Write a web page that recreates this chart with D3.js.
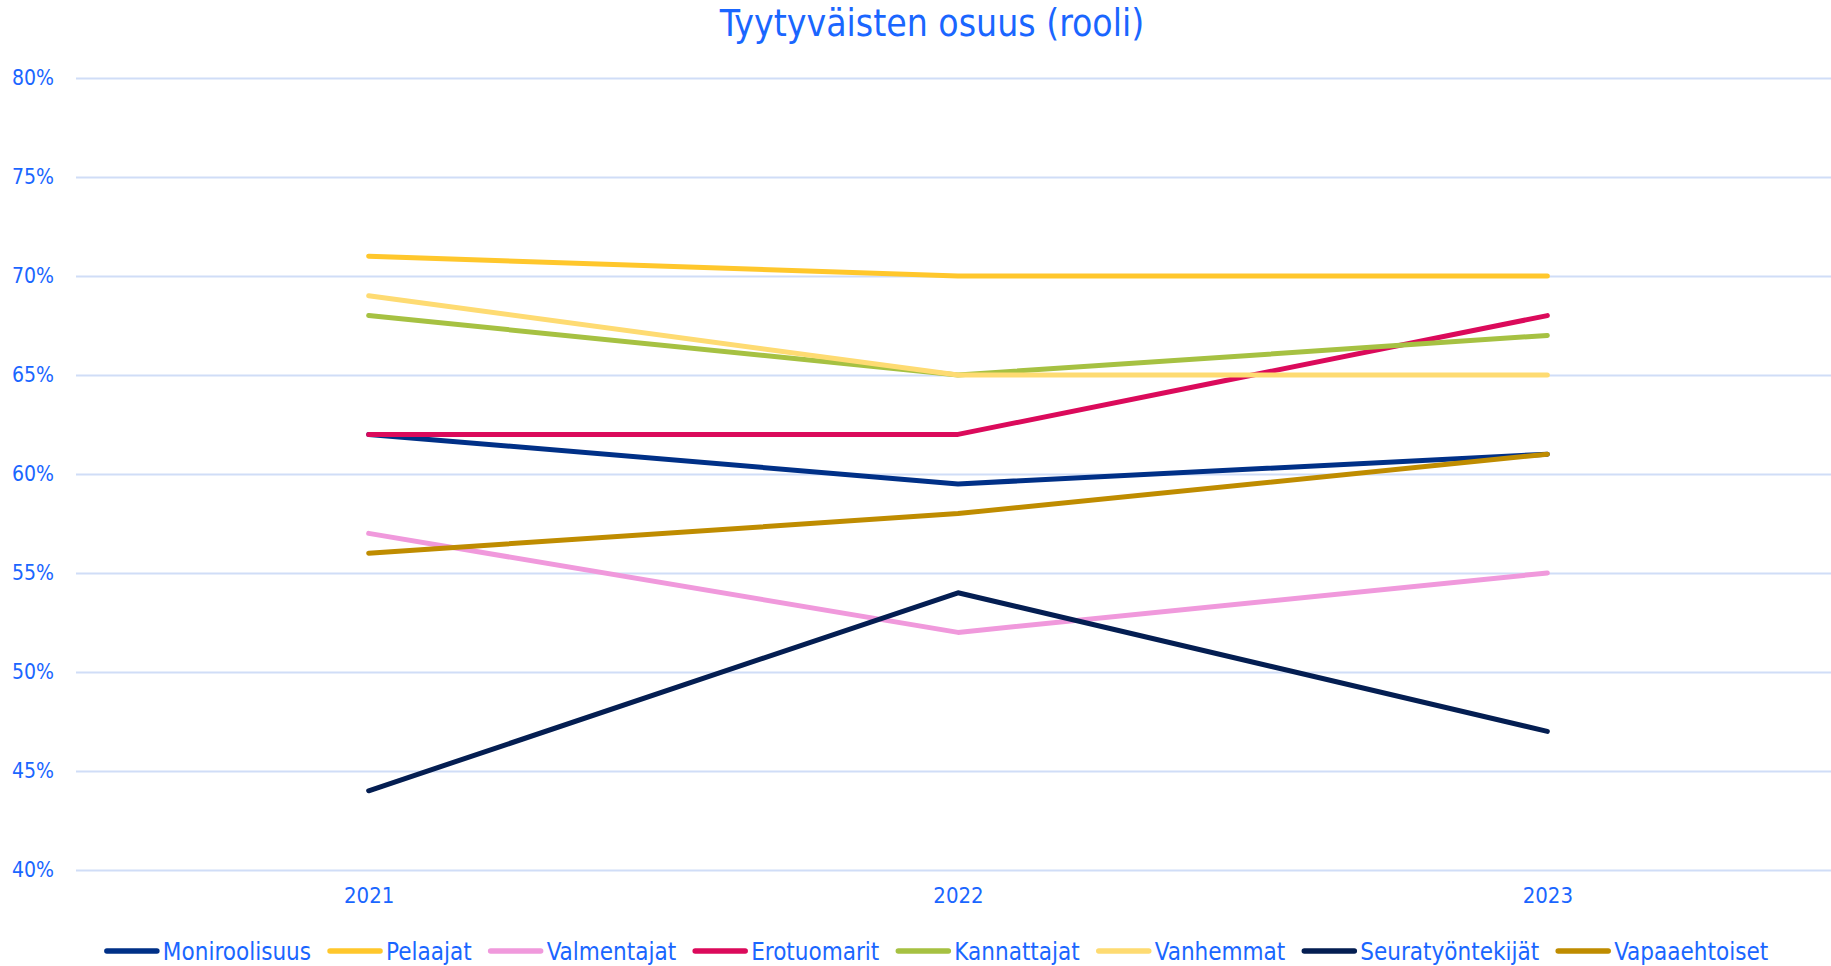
<!DOCTYPE html>
<html>
<head>
<meta charset="utf-8">
<script src="https://cdn.jsdelivr.net/npm/d3@7"></script>
<style>
  body { margin: 0; background: #fff; }
  text { font-family: "DejaVu Sans Condensed", "DejaVu Sans", sans-serif; fill: #1a66ff; }
</style>
</head>
<body>
<div id="chart-area"></div>
<script>
const W = 1831, H = 966
const MARGIN = { LEFT: 76, RIGHT: 0, TOP: 78, BOTTOM: 96 }

// data
const years = ["2021", "2022", "2023"]
const series = ["Moniroolisuus", "Pelaajat", "Valmentajat", "Erotuomarit", "Kannattajat", "Vanhemmat", "Seuratyöntekijät", "Vapaaehtoiset"]
const moniroolisuus = [62, 59.5, 61]
const pelaajat = [71, 70, 70]
const valmentajat = [57, 52, 55]
const erotuomarit = [62, 62, 68]
const kannattajat = [68, 65, 67]
const vanhemmat = [69, 65, 65]
const seuratyontekijat = [44, 54, 47]
const vapaaehtoiset = [56, 58, 61]
const yTicks = [40, 45, 50, 55, 60, 65, 70, 75, 80]
const colors = ["#003087", "#ffc72c", "#f099dc", "#db0a5b", "#a6c142", "#fedb72", "#041e52", "#bf8c00"]

const values = [moniroolisuus, pelaajat, valmentajat, erotuomarit, kannattajat, vanhemmat, seuratyontekijat, vapaaehtoiset]

const svg = d3.select("#chart-area").append("svg")
    .attr("width", W)
    .attr("height", H)

const x = d3.scalePoint()
    .domain(years)
    .range([74, 1842])
    .padding(0.5)

const y = d3.scaleLinear()
    .domain([40, 80])
    .range([870, 78])

// title
svg.append("text")
    .attr("x", 932)
    .attr("y", 36)
    .attr("text-anchor", "middle")
    .attr("font-size", "37px")
    .text("Tyytyväisten osuus (rooli)")

// grid
const yAxis = d3.axisLeft(y)
    .tickValues(yTicks)
    .tickSize(-(W - MARGIN.LEFT))
    .tickPadding(22)
    .tickFormat(d => d + "%")
const gy = svg.append("g")
    .attr("transform", `translate(${MARGIN.LEFT}, 0)`)
    .call(yAxis)
gy.select(".domain").remove()
gy.selectAll("line").attr("stroke", "#d0ddf7").attr("stroke-width", 2)
gy.selectAll("text").attr("font-size", "21px").attr("fill", "#1a66ff")
    .style("font-family", '"DejaVu Sans Condensed", sans-serif')

// x labels
const xAxis = d3.axisBottom(x).tickSize(0).tickPadding(17)
const gx = svg.append("g")
    .attr("transform", "translate(0, 870)")
    .call(xAxis)
gx.select(".domain").remove()
gx.selectAll("text").attr("font-size", "22px").attr("fill", "#1a66ff")
    .style("font-family", '"DejaVu Sans Condensed", sans-serif')

// lines
const line = d3.line()
    .x((d, i) => x(years[i]))
    .y(d => y(d))

svg.append("g").selectAll("path")
    .data(values)
    .enter().append("path")
    .attr("d", d => line(d))
    .attr("fill", "none")
    .attr("stroke", (d, i) => colors[i])
    .attr("stroke-width", 5)
    .attr("stroke-linecap", "round")
    .attr("stroke-linejoin", "round")

// legend
const legend = svg.append("g")
const items = legend.selectAll("g")
    .data(series)
    .enter().append("g")
items.append("line")
    .attr("x1", 3).attr("x2", 53)
    .attr("y1", 0).attr("y2", 0)
    .attr("stroke", (d, i) => colors[i])
    .attr("stroke-width", 5.5)
    .attr("stroke-linecap", "round")
items.append("text")
    .attr("x", 59)
    .attr("y", 8.5)
    .attr("font-size", "24px")
    .text(d => d)

let pos = 0
items.each(function () {
    const w = d3.select(this).select("text").node().getComputedTextLength()
    d3.select(this).attr("transform", `translate(${pos}, 0)`)
    pos += 59 + w + 16
})
pos -= 16
legend.attr("transform", `translate(${936 - pos / 2}, 951)`)
</script>
</body>
</html>
